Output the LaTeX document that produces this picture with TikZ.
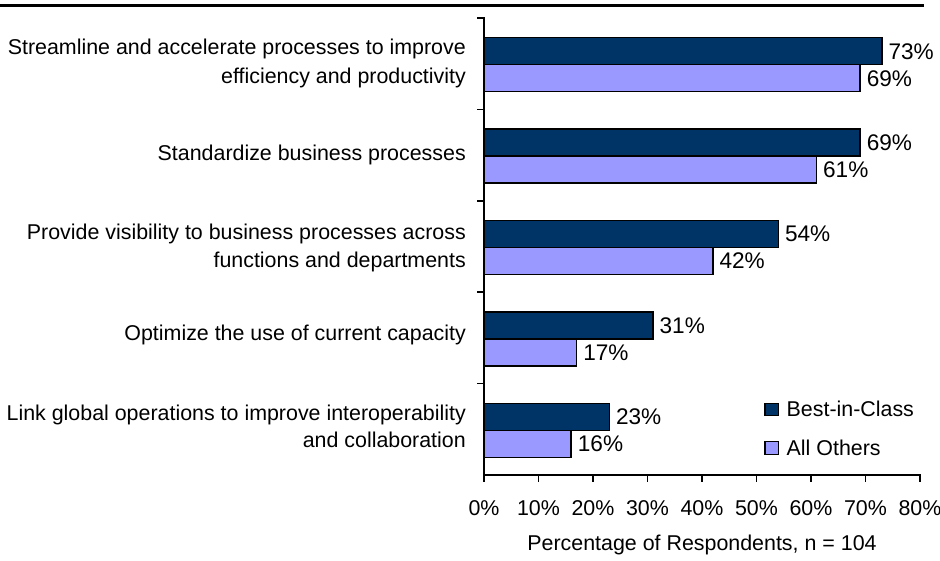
\documentclass[tikz,border=0pt]{standalone}
\usepackage{fontspec}
\setmainfont{Liberation Sans}
\definecolor{bic}{RGB}{0,51,102}
\definecolor{oth}{RGB}{153,153,255}
\begin{document}
\begin{tikzpicture}[x=1pt,y=-1pt,
  font=\fontsize{21.4}{26}\selectfont,
  barbox/.style={draw=black,line width=1.5pt},
  val/.style={anchor=base west,inner sep=0pt,font=\fontsize{22.6}{27}\selectfont},
  leg/.style={anchor=base west,inner sep=0pt},
  catlab/.style={anchor=base east,inner sep=0pt},
  axisline/.style={line width=1.5pt,line cap=rect},
  ticklab/.style={anchor=base,inner sep=0pt},
  legbox/.style={draw=black,line width=1.3pt}]
\useasboundingbox (0,0) rectangle (940,561);
% top rule
\draw[line width=2.6pt] (0,5.3) -- (924,5.3);
% bars: mid, dark value, light value
\foreach \i/\m/\a/\b in {1/64.7/73/69, 2/156.1/69/61, 3/247.5/54/42, 4/338.9/31/17, 5/430.3/23/16} {
  \pgfmathsetmacro{\xa}{484+5.45*\a}
  \pgfmathsetmacro{\xb}{484+5.45*\b}
  \draw[barbox,fill=bic] (484,\m-27) rectangle (\xa,\m);
  \draw[barbox,fill=oth] (484,\m) rectangle (\xb,\m+27);
  \node[val] (va\i) at (\xa+6.5,\m-5.5) {\a\%};
  \node[val] (vb\i) at (\xb+6.5,\m+21.5) {\b\%};
}
% category labels
\node[catlab] (c1a) at (466,55) {Streamline and accelerate processes to improve};
\node[catlab] (c1b) at (466,83.3) {efficiency and productivity};
\node[catlab] (c2) at (466,160.7) {Standardize business processes};
\node[catlab] (c3a) at (466,239.3) {Provide visibility to business processes across};
\node[catlab] (c3b) at (466,267.3) {functions and departments};
\node[catlab] (c4) at (466,340.7) {Optimize the use of current capacity};
\node[catlab] (c5a) at (466,420) {Link global operations to improve interoperability};
\node[catlab] (c5b) at (466,447.7) {and collaboration};
% axes
\draw[axisline] (484,18) -- (484,475) -- (920,475);
\foreach \y in {18,109.4,200.8,292.2,383.6} \draw[line width=1.5pt] (477,\y) -- (484,\y);
\foreach \k in {0,...,8} {
  \pgfmathsetmacro{\xt}{484+54.5*\k}
  \draw[line width=1.5pt] (\xt,475) -- (\xt,481.5);
  \pgfmathtruncatemacro{\pc}{10*\k}
  \node[ticklab] (t\k) at (\xt,515.5) {\pc\%};
}
\node[ticklab] (xtitle) at (702,550) {Percentage of Respondents, n = 104};
% legend
\draw[legbox,fill=bic] (765,403.3) rectangle (778.3,415.7);
\draw[legbox,fill=oth] (765,441.7) rectangle (778.3,454.3);
\node[leg] (lg1) at (786.5,416) {Best-in-Class};
\node[leg] (lg2) at (786.5,455) {All Others};
\end{tikzpicture}
\end{document}
